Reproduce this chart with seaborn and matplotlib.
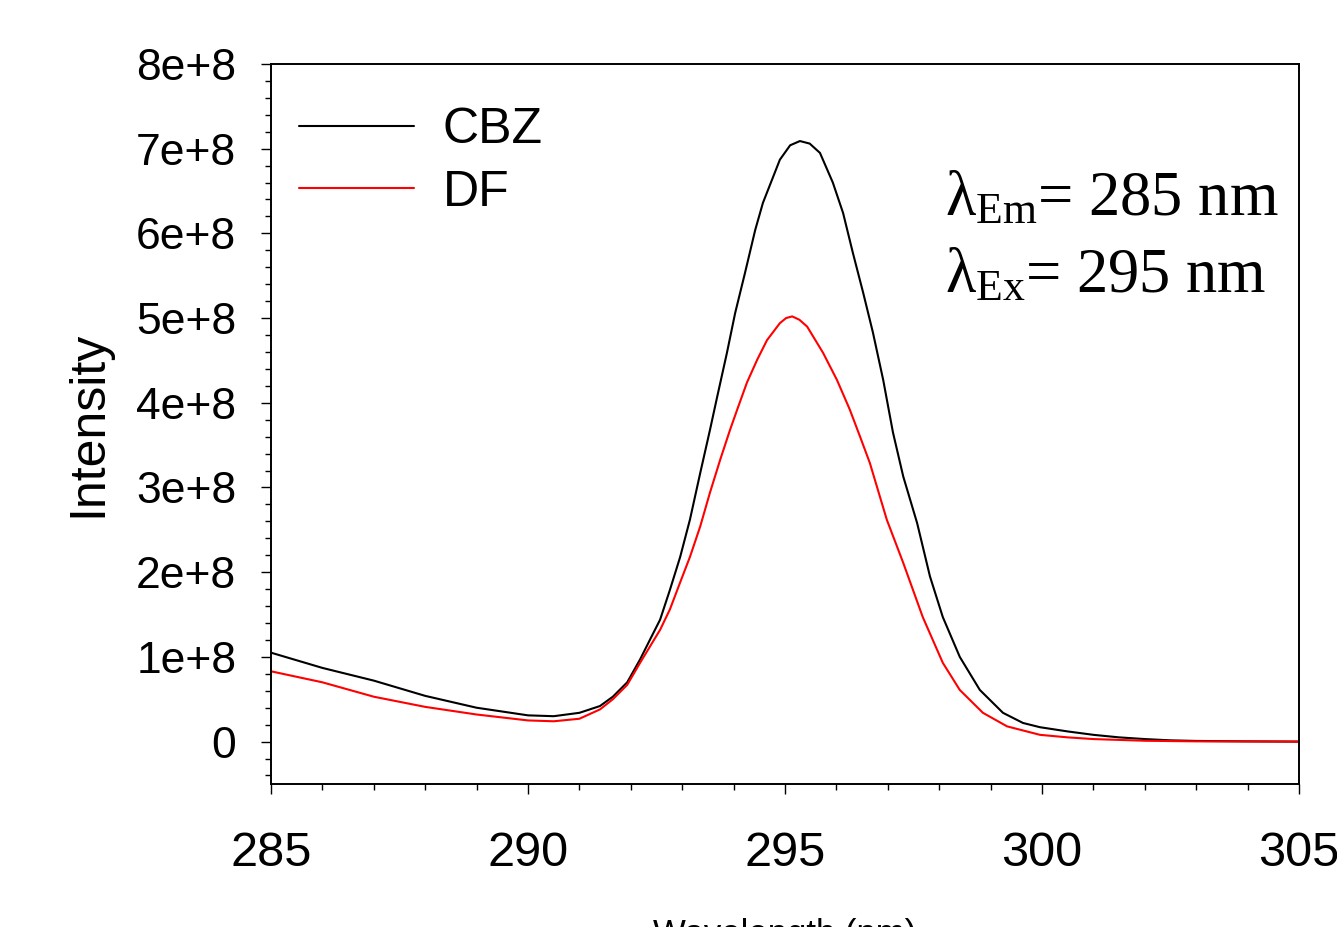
import numpy as np
import pandas as pd
import matplotlib
matplotlib.use('Agg')
import matplotlib.pyplot as plt
import seaborn as sns
from matplotlib.ticker import MultipleLocator, FuncFormatter

# Values (intensity in units of 1e8)
cbz_wavelength = [285.0, 286.0, 287.0, 288.0, 289.0, 290.0, 290.5, 291.0, 291.4, 291.65,
                  291.93, 292.18, 292.37, 292.57, 292.76, 292.96, 293.15, 293.35, 293.54, 293.68,
                  293.87, 294.03, 294.22, 294.42, 294.57, 294.9, 295.1, 295.29, 295.48, 295.68,
                  295.93, 296.13, 296.32, 296.52, 296.71, 296.91, 297.1, 297.3, 297.57, 297.82,
                  298.07, 298.4, 298.79, 299.24, 299.63, 299.96, 300.5, 301.0, 301.5, 302.0,
                  302.5, 303.0, 304.0, 305.0]
cbz_intensity = [1.05, 0.87, 0.72, 0.54, 0.40, 0.31, 0.30, 0.34, 0.42, 0.53,
                 0.70, 0.97, 1.20, 1.44, 1.79, 2.18, 2.62, 3.17, 3.68, 4.07,
                 4.59, 5.06, 5.53, 6.04, 6.36, 6.87, 7.04, 7.09, 7.06, 6.95,
                 6.60, 6.24, 5.77, 5.30, 4.83, 4.27, 3.65, 3.13, 2.58, 1.95,
                 1.47, 1.00, 0.61, 0.34, 0.22, 0.17, 0.12, 0.08, 0.05, 0.03,
                 0.015, 0.008, 0.003, 0.0]

df_wavelength = [285.0, 286.0, 287.0, 288.0, 289.0, 290.0, 290.5, 291.0, 291.4, 291.65,
                 291.93, 292.18, 292.37, 292.57, 292.76, 292.96, 293.15, 293.35, 293.54, 293.74,
                 293.93, 294.07, 294.26, 294.46, 294.65, 294.9, 295.02, 295.14, 295.28, 295.43,
                 295.74, 296.01, 296.26, 296.46, 296.65, 296.98, 297.3, 297.68, 298.07, 298.4,
                 298.85, 299.32, 299.96, 300.5, 301.0, 302.0, 303.0, 305.0]
df_intensity = [0.83, 0.70, 0.53, 0.41, 0.32, 0.25, 0.24, 0.27, 0.38, 0.50,
                0.67, 0.93, 1.12, 1.32, 1.56, 1.88, 2.18, 2.54, 2.94, 3.33,
                3.68, 3.92, 4.24, 4.51, 4.74, 4.94, 5.00, 5.02, 4.98, 4.90,
                4.59, 4.27, 3.92, 3.60, 3.29, 2.62, 2.11, 1.47, 0.93, 0.61,
                0.34, 0.18, 0.08, 0.05, 0.03, 0.01, 0.003, 0.0]

series_names = ['CBZ', 'DF']
series_colors = ['black', 'red']
y_tick_labels = ['0', '1e+8', '2e+8', '3e+8', '4e+8', '5e+8', '6e+8', '7e+8', '8e+8']

# long-form table for seaborn
data = pd.concat([
    pd.DataFrame({'Wavelength': cbz_wavelength, 'Intensity': np.array(cbz_intensity) * 1e8, 'Sample': 'CBZ'}),
    pd.DataFrame({'Wavelength': df_wavelength, 'Intensity': np.array(df_intensity) * 1e8, 'Sample': 'DF'}),
], ignore_index=True)

sns.set_theme(style="white")
plt.rcParams['font.family'] = ['Liberation Sans', 'DejaVu Sans']
plt.rcParams['text.color'] = 'black'
plt.rcParams['axes.labelcolor'] = 'black'
plt.rcParams['xtick.color'] = 'black'
plt.rcParams['ytick.color'] = 'black'
plt.rcParams['mathtext.fontset'] = 'custom'
plt.rcParams['mathtext.rm'] = 'Liberation Serif'
plt.rcParams['mathtext.it'] = 'Liberation Serif'

fig = plt.figure(figsize=(13.37, 9.27), dpi=100)
ax = fig.add_axes([0.2027, 0.1543, 0.7689, 0.7767])

sns.lineplot(data=data, x='Wavelength', y='Intensity', hue='Sample', hue_order=series_names,
             palette=dict(zip(series_names, series_colors)), linewidth=1.5, ax=ax)

ax.set_xlim(285, 305)
ax.set_ylim(-0.5e8, 8e8)

ax.xaxis.set_major_locator(MultipleLocator(5))
ax.xaxis.set_minor_locator(MultipleLocator(1))
ax.yaxis.set_major_locator(MultipleLocator(1e8))
ax.yaxis.set_minor_locator(MultipleLocator(0.2e8))
ax.yaxis.set_major_formatter(FuncFormatter(
    lambda v, pos: y_tick_labels[int(round(v / 1e8))] if 0 <= round(v / 1e8) < len(y_tick_labels) else ''))

ax.tick_params(axis='both', which='both', direction='out', top=False, right=False,
               bottom=True, left=True, color='black', labelcolor='black', width=1.0)
ax.tick_params(axis='both', which='major', length=7)
ax.tick_params(axis='both', which='minor', length=4.5)
ax.tick_params(axis='x', which='major', labelsize=35, pad=27)
ax.tick_params(axis='y', which='major', labelsize=32, pad=18)

for spine in ax.spines.values():
    spine.set_visible(True)
    spine.set_color('black')
    spine.set_linewidth(1.4)

ax.set_xlabel('Wavelength (nm)', fontsize=25, labelpad=30, color='black')
ax.set_ylabel('Intensity', fontsize=36, labelpad=18, color='black')

leg = ax.legend(loc='upper left', bbox_to_anchor=(0.027, 0.94), frameon=False, fontsize=36,
                handlelength=2.3, handletextpad=0.58, labelspacing=0.33, borderaxespad=0, borderpad=0)
for line in leg.get_lines():
    line.set_linewidth(1.5)
for txt in leg.get_texts():
    txt.set_color('black')

ax.text(0.656, 0.790, r'$\lambda_{\mathrm{Em}}$= 285 nm', transform=ax.transAxes,
        fontsize=45, family='Liberation Serif', va='baseline', ha='left', color='black')
ax.text(0.656, 0.683, r'$\lambda_{\mathrm{Ex}}$= 295 nm', transform=ax.transAxes,
        fontsize=45, family='Liberation Serif', va='baseline', ha='left', color='black')

fig.savefig('out.png', dpi=100)
